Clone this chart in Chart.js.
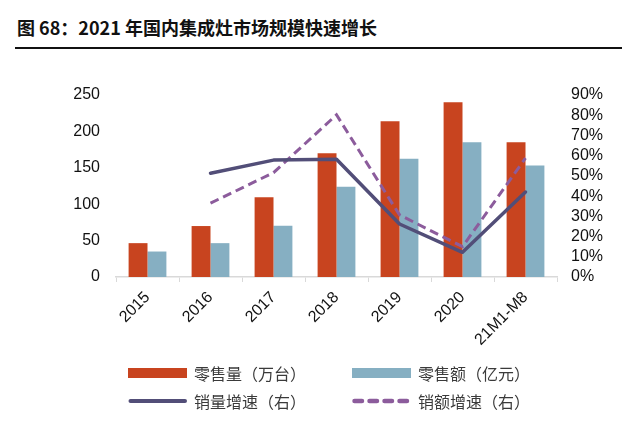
<!DOCTYPE html>
<html>
<head>
<meta charset="utf-8">
<script src="https://cdn.jsdelivr.net/npm/chart.js@4"></script>
<style>
  html, body { margin: 0; padding: 0; background: #fff; }
  #wrap { position: relative; width: 641px; height: 427px; overflow: hidden; background: #fff; }
  #title { position: absolute; left: 17px; top: 14px; font: bold 18px "Noto Sans CJK SC", sans-serif; color: #111; white-space: nowrap; letter-spacing: 0px; }
  #rule { position: absolute; left: 15px; top: 47px; width: 607px; height: 2px; background: #111; }
  #c { position: absolute; left: 0; top: 0; }
  #legend { position: absolute; left: 0; top: 0; width: 641px; height: 427px; pointer-events: none; }
  .item { position: absolute; height: 20px; display: flex; align-items: center; font: 16px "Noto Sans CJK SC", sans-serif; color: #3a3a3a; white-space: nowrap; }
  .item svg { margin-right: 6px; }
</style>
</head>
<body>
<div id="wrap">
  <div id="title">图 68：2021 年国内集成灶市场规模快速增长</div>
  <div id="rule"></div>
  <canvas id="c" width="641" height="427"></canvas>
  <div id="legend"></div>
</div>
<script>
// ---- data ----
const categories = ['2015', '2016', '2017', '2018', '2019', '2020', '21M1-M8'];
const retailVolume = [46.5, 70, 109.5, 170, 214, 240, 185];     // 零售量（万台）
const retailValue = [35, 46.5, 70.5, 124, 162.5, 185, 153];     // 零售额（亿元）
const volumeGrowth = [null, 51.3, 57.8, 58.2, 26.2, 12.2, 42];  // 销量增速（右）%
const valueGrowth = [null, 36.5, 51.6, 80.2, 30.7, 15, 58.8];   // 销额增速（右）%
const leftTicks = [0, 50, 100, 150, 200, 250];
const rightTicks = [0, 10, 20, 30, 40, 50, 60, 70, 80, 90];
const seriesNames = ['零售量（万台）', '零售额（亿元）', '销量增速（右）', '销额增速（右）'];

const RED = '#C8441F', BLUE = '#86AFC2', DARK = '#524E78', PURPLE = '#8C5C9C';
const tickFont = { family: '"Liberation Sans", Arial, sans-serif', size: 16 };

const chart = new Chart(document.getElementById('c'), {
  type: 'bar',
  data: {
    labels: categories,
    datasets: [
      { type: 'line', label: seriesNames[2], data: volumeGrowth, yAxisID: 'y1', borderColor: DARK, backgroundColor: DARK,
        borderWidth: 3.5, pointRadius: 0, tension: 0, spanGaps: false, order: 0, borderCapStyle: 'round', borderJoinStyle: 'round' },
      { type: 'line', label: seriesNames[3], data: valueGrowth, yAxisID: 'y1', borderColor: PURPLE, backgroundColor: PURPLE,
        borderWidth: 3, borderDash: [9, 5], pointRadius: 0, tension: 0, order: 0 },
      { label: seriesNames[0], data: retailVolume, yAxisID: 'y', backgroundColor: RED, categoryPercentage: 0.6, barPercentage: 1.0, order: 1 },
      { label: seriesNames[1], data: retailValue, yAxisID: 'y', backgroundColor: BLUE, categoryPercentage: 0.6, barPercentage: 1.0, order: 1 }
    ]
  },
  options: {
    responsive: false,
    animation: false,
    devicePixelRatio: 1,
    layout: { padding: { top: 95, left: 0, right: 0, bottom: 0 } },
    plugins: { legend: { display: false }, tooltip: { enabled: false }, title: { display: false } },
    scales: {
      x: {
        offset: true,
        grid: { display: true, drawOnChartArea: false, drawTicks: true, tickLength: 5, color: '#d9d9d9', offset: true },
        border: { display: true, color: '#d9d9d9', width: 1.5 },
        ticks: { font: tickFont, color: '#111', maxRotation: 45, minRotation: 45, padding: 6, autoSkip: false },
        afterFit: s => { s.height = 150; }
      },
      y: {
        position: 'left', min: 0, max: 250,
        afterBuildTicks: s => { s.ticks = leftTicks.map(v => ({ value: v })); },
        grid: { display: false, drawTicks: false },
        border: { display: false },
        ticks: { font: tickFont, color: '#111', padding: 16, autoSkip: false },
        afterFit: s => { s.width = 116; }
      },
      y1: {
        position: 'right', min: 0, max: 90,
        afterBuildTicks: s => { s.ticks = rightTicks.map(v => ({ value: v })); },
        grid: { display: false, drawTicks: false },
        border: { display: false },
        ticks: { font: tickFont, color: '#111', padding: 14, autoSkip: false, callback: v => v + '%' },
        afterFit: s => { s.width = 84; }
      }
    }
  }
});

// ---- legend (built from the chart's datasets) ----
const legend = document.getElementById('legend');
const order = [2, 3, 0, 1];
const pos = [[128, 363], [352, 363], [128, 391], [352, 391]];
order.forEach((di, i) => {
  const ds = chart.data.datasets[di];
  const el = document.createElement('div');
  el.className = 'item';
  el.style.left = pos[i][0] + 'px';
  el.style.top = pos[i][1] + 'px';
  let sample;
  if (ds.type === 'line') {
    const dashed = !!ds.borderDash;
    const dash = dashed ? 'stroke-dasharray="7.5 7.5"' : '';
    const w = dashed ? 4.5 : 4;
    sample = `<svg width="60" height="20"><line x1="2.5" y1="10" x2="57" y2="10" stroke="${ds.borderColor}" stroke-width="${w}" stroke-linecap="round" ${dash}/></svg>`;
  } else {
    sample = `<svg width="60" height="20"><rect x="0" y="5" width="59" height="10" fill="${ds.backgroundColor}"/></svg>`;
  }
  el.innerHTML = sample + '<span>' + ds.label + '</span>';
  legend.appendChild(el);
});
</script>
</body>
</html>
